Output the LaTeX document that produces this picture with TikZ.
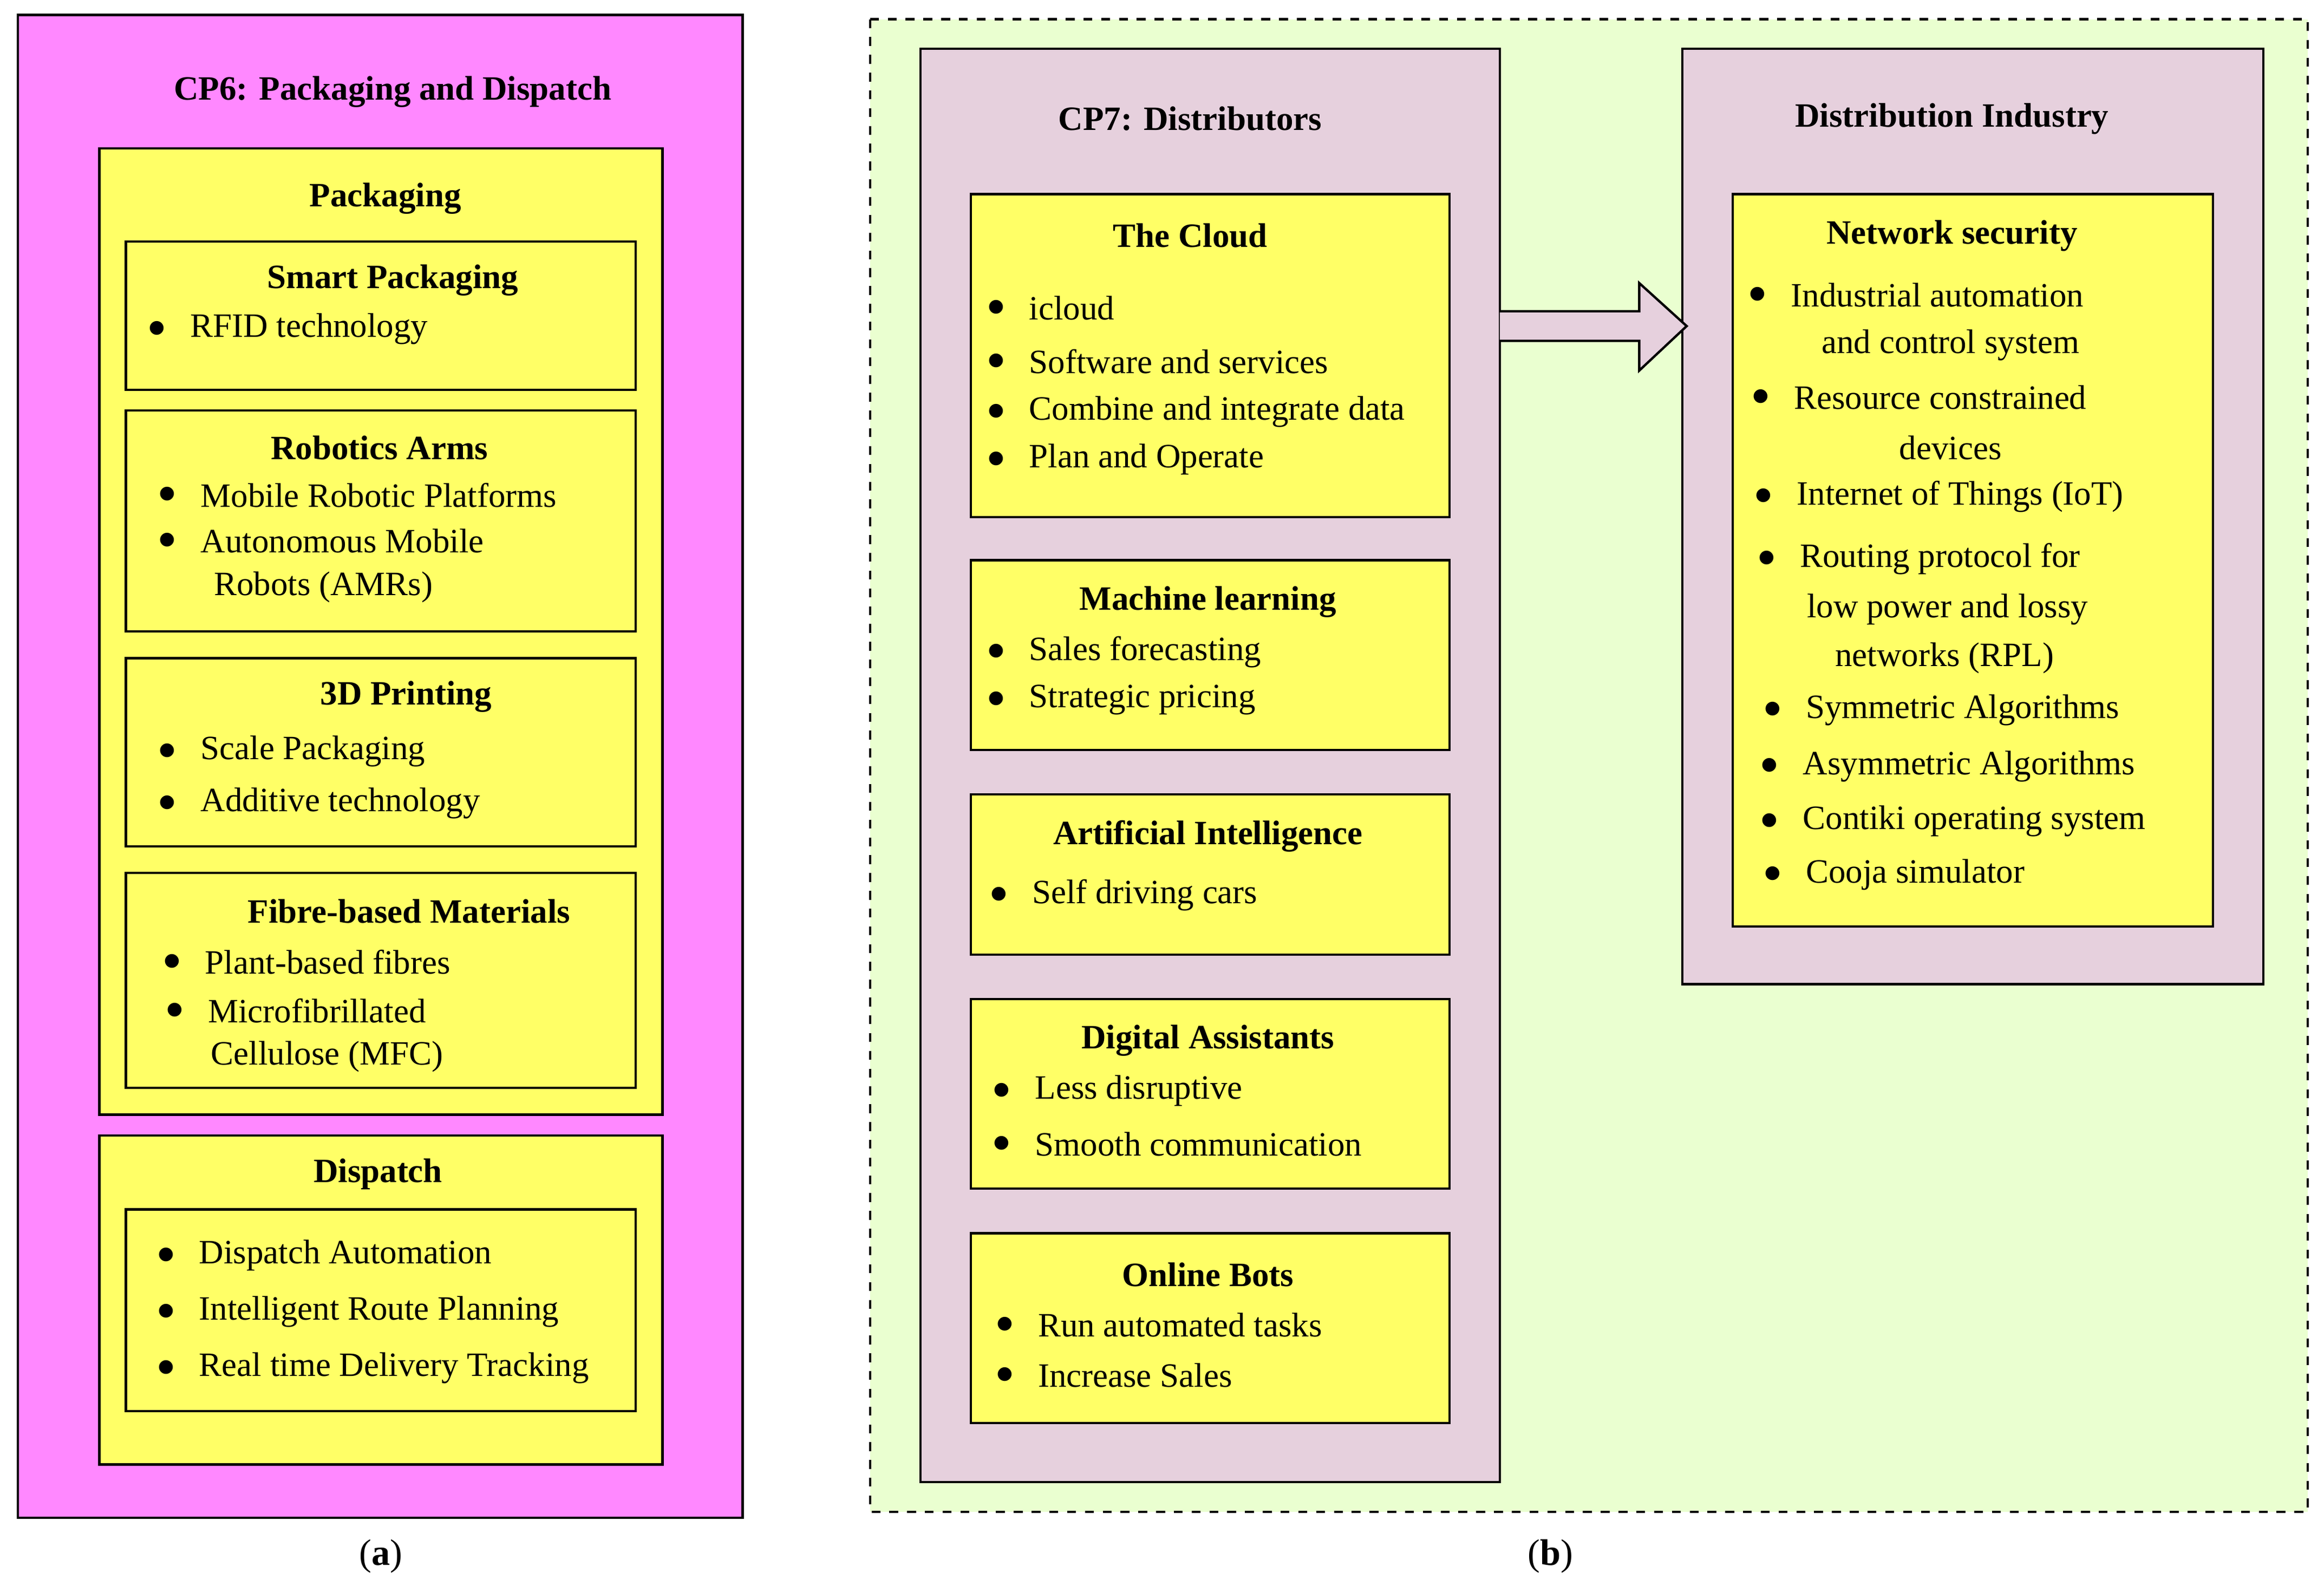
\documentclass[tikz,border=0pt]{standalone}
\usepackage{fontspec}
\setmainfont{Liberation Serif}
\begin{document}
\begin{tikzpicture}[x=0.5pt,y=-0.5pt,
  every node/.style={font=\fontsize{11.5}{13}\selectfont,inner sep=0pt},
  ttl/.style={font=\fontsize{11.5}{13}\selectfont\bfseries},
  ybox/.style={draw=black,fill=yellow!40!yellow,fill=cyellow,line width=0.8pt},
  t/.style={anchor=west}]
\definecolor{cyellow}{HTML}{FFFF66}
\definecolor{cpink}{HTML}{FF88FF}
\definecolor{cgreen}{HTML}{EAFFD0}
\definecolor{cmauve}{HTML}{E6D0DD}
\newcommand{\bul}[4]{\node[anchor=center] (#1d) at (#2,#3) {$\bullet$}; \node[t] (#1) at (#2+22,#3) {#4};}
\useasboundingbox (0,0) rectangle (1568,1074);
% left
\draw[fill=cpink,line width=0.8pt] (12,10) rectangle (501,1024);
\node[ttl] (cp6) at (265,62) {CP6: Packaging and Dispatch};
\draw[ybox] (67,100) rectangle (447,752);
\node[ttl] (pk) at (260,134) {Packaging};
\draw[ybox] (85,163) rectangle (429,263);
\node[ttl] (sp) at (265,189) {Smart Packaging};
\bul{a1}{106}{222}{RFID technology}
\draw[ybox] (85,277) rectangle (429,426);
\node[ttl] (ra) at (256,302) {Robotics Arms};
\bul{a2}{113}{334}{Mobile Robotic Platforms}
\bul{a3}{113}{365}{Autonomous Mobile}
\node[t] (a3b) at (144,396) {Robots (AMRs)};
\draw[ybox] (85,444) rectangle (429,571);
\node[ttl] (dp) at (274,470) {3D Printing};
\bul{a4}{113}{507}{Scale Packaging}
\bul{a5}{113}{542}{Additive technology}
\draw[ybox] (85,589) rectangle (429,734);
\node[ttl] (fb) at (276,615) {Fibre-based Materials};
\bul{a6}{116}{649}{Plant-based fibres}
\bul{a7}{118}{682}{Microfibrillated}
\node[t] (a7b) at (142,713) {Cellulose (MFC)};
\draw[ybox] (67,766) rectangle (447,988);
\node[ttl] (ds) at (255,792) {Dispatch};
\draw[ybox] (85,816) rectangle (429,952);
\bul{a8}{112}{847}{Dispatch Automation}
\bul{a9}{112}{885}{Intelligent Route Planning}
\bul{a10}{112}{923}{Real time Delivery Tracking}
\node (la) at (257,1050) {\fontsize{12.5}{14}\selectfont(\textbf{a})};
% right
\draw[fill=cgreen,dashed,line width=0.8pt] (587,13) rectangle (1557,1020);
\draw[fill=cmauve,line width=0.8pt] (621,33) rectangle (1012,1000);
\node[ttl] (cp7) at (803,80) {CP7: Distributors};
\draw[ybox] (655,131) rectangle (978,349);
\node[ttl] (cl) at (803,159) {The Cloud};
\bul{b1}{672}{208}{icloud}
\bul{b2}{672}{244}{Software and services}
\bul{b3}{672}{278}{Combine and integrate data}
\bul{b4}{672}{310}{Plan and Operate}
\draw[ybox] (655,378) rectangle (978,506);
\node[ttl] (ml) at (815,406) {Machine learning};
\bul{b5}{672}{440}{Sales forecasting}
\bul{b6}{672}{472}{Strategic pricing}
\draw[ybox] (655,536) rectangle (978,644);
\node[ttl] (ai) at (815,564) {Artificial Intelligence};
\bul{b7}{674}{604}{Self driving cars}
\draw[ybox] (655,674) rectangle (978,802);
\node[ttl] (da) at (815,702) {Digital Assistants};
\bul{b8}{676}{736}{Less disruptive}
\bul{b9}{676}{772}{Smooth communication}
\draw[ybox] (655,832) rectangle (978,960);
\node[ttl] (ob) at (815,860) {Online Bots};
\bul{b10}{678}{894}{Run automated tasks}
\bul{b11}{678}{928}{Increase Sales}
\draw[fill=cmauve,line width=0.8pt] (1135,33) rectangle (1527,664);
\node[ttl] (di) at (1317,80) {Distribution Industry};
\draw[ybox] (1169,131) rectangle (1493,625);
\node[ttl] (ns) at (1317,159) {Network security};
\bul{c1}{1186}{199}{Industrial automation}
\node (c1b) at (1316,233) {and control system};
\bul{c2}{1188}{268}{Resource constrained}
\node (c2b) at (1316,302) {devices};
\bul{c3}{1190}{335}{Internet of Things (IoT)}
\bul{c4}{1192}{377}{Routing protocol for}
\node (c4b) at (1314,411) {low power and lossy};
\node (c4c) at (1312,444) {networks (RPL)};
\bul{c5}{1196}{479}{Symmetric Algorithms}
\bul{c6}{1194}{517}{Asymmetric Algorithms}
\bul{c7}{1194}{554}{Contiki operating system}
\bul{c8}{1196}{590}{Cooja simulator}
\node (lb) at (1046,1050) {\fontsize{12.5}{14}\selectfont(\textbf{b})};
% arrow
\draw[fill=cmauve,line width=0.8pt] (1012,210) -- (1106,210) -- (1106,191) -- (1138,220) -- (1106,250) -- (1106,230) -- (1012,230);
\end{tikzpicture}
\end{document}
